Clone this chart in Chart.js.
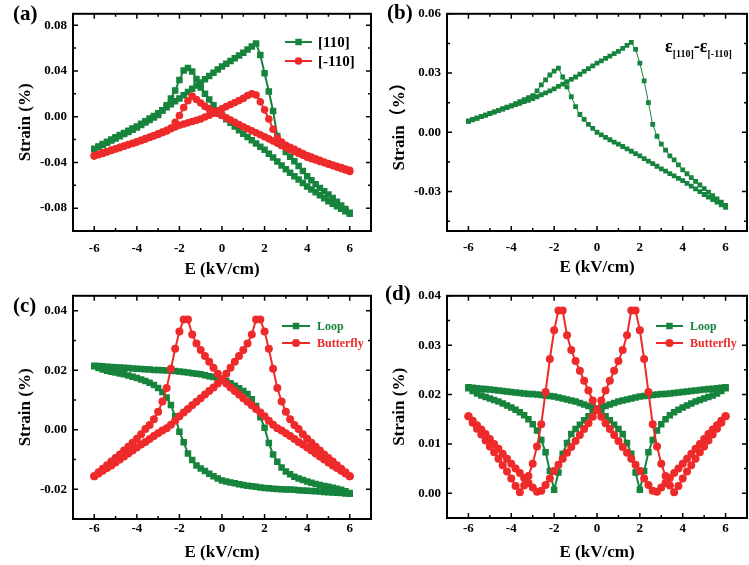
<!DOCTYPE html>
<html>
<head>
<meta charset="utf-8">
<style>
* { margin: 0; padding: 0; }
body { width: 749px; height: 565px; background: #fff; position: relative; overflow: hidden; }
canvas { position: absolute; }
#chartA { left: 0; top: 0; }
#chartB { left: 374px; top: 0; }
#chartC { left: 0; top: 282px; }
#chartD { left: 374px; top: 282px; }
</style>
</head>
<body>
<canvas id="chartA" width="374" height="282"></canvas>
<canvas id="chartB" width="375" height="282"></canvas>
<canvas id="chartC" width="374" height="283"></canvas>
<canvas id="chartD" width="375" height="283"></canvas>
<script src="https://cdn.jsdelivr.net/npm/chart.js"></script>
<script>
// field sweep, kV/cm (both branches use the same grid, stored in ascending order)
const eField = [-6.0,-5.8,-5.6,-5.4,-5.2,-5.0,-4.8,-4.6,-4.4,-4.2,-4.0,-3.8,-3.6,-3.4,-3.2,-3.0,-2.8,-2.6,-2.4,-2.2,
  -2.0,-1.8,-1.6,-1.4,-1.2,-1.0,-0.8,-0.6,-0.4,-0.2,0,0.2,0.4,0.6,0.8,1.0,1.2,1.4,1.6,1.8,
  2.0,2.2,2.4,2.6,2.8,3.0,3.2,3.4,3.6,3.8,4.0,4.2,4.4,4.6,4.8,5.0,5.2,5.4,5.6,5.8,6.0];

// tick values
const eTicks = [-6, -4, -2, 0, 2, 4, 6];
const eMinor = [-5, -3, -1, 1, 3, 5];
const aTicks = [-0.08, -0.04, 0, 0.04, 0.08];
const aMinor = [-0.06, -0.02, 0.02, 0.06];
const bTicks = [-0.03, 0, 0.03, 0.06];
const bMinor = [-0.045, -0.015, 0.015, 0.045];
const cTicks = [-0.02, 0, 0.02, 0.04];
const cMinor = [-0.01, 0.01, 0.03];
const dTicks = [0, 0.01, 0.02, 0.03, 0.04];
const dMinor = [0.005, 0.015, 0.025, 0.035];

// (a) strain along [110] and [-110]; "up" = field rising, "down" = field falling
const s110Up = [-0.0280,-0.0260,-0.0240,-0.0220,-0.0200,-0.0180,-0.0161,-0.0142,-0.0123,-0.0104,
  -0.0085,-0.0062,-0.0039,-0.0016,0.0007,0.0030,0.0056,0.0082,0.0108,0.0134,
  0.0160,0.0188,0.0216,0.0244,0.0272,0.0300,0.0328,0.0356,0.0384,0.0412,
  0.0440,0.0464,0.0488,0.0512,0.0536,0.0560,0.0587,0.0613,0.0640,0.0540,
  0.0380,0.0220,0.0050,-0.0170,-0.0250,-0.0310,-0.0350,-0.0390,-0.0432,-0.0476,
  -0.0520,-0.0556,-0.0592,-0.0624,-0.0652,-0.0680,-0.0712,-0.0744,-0.0776,-0.0808,
  -0.0840];
const s110Down = [-0.0285,-0.0266,-0.0247,-0.0228,-0.0209,-0.0190,-0.0171,-0.0152,-0.0133,-0.0114,
  -0.0095,-0.0073,-0.0051,-0.0029,-0.0007,0.0015,0.0055,0.0100,0.0160,0.0230,
  0.0320,0.0405,0.0425,0.0395,0.0330,0.0255,0.0200,0.0150,0.0100,0.0055,
  0.0010,-0.0022,-0.0054,-0.0086,-0.0118,-0.0150,-0.0178,-0.0206,-0.0234,-0.0262,
  -0.0290,-0.0324,-0.0358,-0.0392,-0.0426,-0.0460,-0.0490,-0.0520,-0.0550,-0.0580,
  -0.0610,-0.0636,-0.0662,-0.0688,-0.0714,-0.0740,-0.0762,-0.0784,-0.0806,-0.0828,
  -0.0850];
const sm110Up = [-0.0340,-0.0328,-0.0316,-0.0304,-0.0292,-0.0280,-0.0268,-0.0256,-0.0244,-0.0232,
  -0.0220,-0.0206,-0.0192,-0.0178,-0.0164,-0.0150,-0.0135,-0.0120,-0.0105,-0.0090,
  -0.0075,-0.0064,-0.0053,-0.0042,-0.0031,-0.0020,-0.0003,0.0013,0.0030,0.0050,
  0.0070,0.0088,0.0106,0.0124,0.0142,0.0160,0.0185,0.0200,0.0190,0.0130,
  0.0060,-0.0020,-0.0110,-0.0190,-0.0222,-0.0250,-0.0268,-0.0286,-0.0304,-0.0322,
  -0.0340,-0.0354,-0.0368,-0.0382,-0.0396,-0.0410,-0.0422,-0.0434,-0.0446,-0.0458,
  -0.0470];
const sm110Down = [-0.0345,-0.0333,-0.0321,-0.0309,-0.0296,-0.0283,-0.0271,-0.0259,-0.0246,-0.0234,
  -0.0222,-0.0209,-0.0196,-0.0182,-0.0168,-0.0155,-0.0140,-0.0125,-0.0100,-0.0050,
  0.0010,0.0080,0.0140,0.0180,0.0150,0.0120,0.0090,0.0068,0.0045,0.0028,
  0.0010,-0.0010,-0.0029,-0.0049,-0.0068,-0.0088,-0.0105,-0.0123,-0.0140,-0.0158,
  -0.0175,-0.0194,-0.0213,-0.0232,-0.0251,-0.0270,-0.0287,-0.0304,-0.0321,-0.0338,
  -0.0355,-0.0367,-0.0379,-0.0391,-0.0403,-0.0415,-0.0428,-0.0441,-0.0454,-0.0467,
  -0.0480];

// (b) difference e[110]-e[-110]
const diffUp = [0.0057,0.0065,0.0072,0.0080,0.0087,0.0095,0.0102,0.0110,0.0117,0.0125,
  0.0132,0.0140,0.0147,0.0155,0.0162,0.0170,0.0180,0.0190,0.0200,0.0210,
  0.0220,0.0232,0.0244,0.0256,0.0268,0.0280,0.0294,0.0308,0.0322,0.0336,
  0.0350,0.0362,0.0374,0.0386,0.0398,0.0410,0.0425,0.0440,0.0455,0.0420,
  0.0350,0.0260,0.0150,0.0040,-0.0020,-0.0060,-0.0090,-0.0120,-0.0140,-0.0165,
  -0.0190,-0.0210,-0.0230,-0.0249,-0.0267,-0.0285,-0.0303,-0.0321,-0.0338,-0.0354,
  -0.0370];
const diffDown = [0.0055,0.0063,0.0071,0.0079,0.0087,0.0095,0.0103,0.0111,0.0119,0.0127,
  0.0135,0.0145,0.0155,0.0165,0.0175,0.0185,0.0210,0.0240,0.0265,0.0290,
  0.0310,0.0325,0.0280,0.0230,0.0180,0.0130,0.0090,0.0065,0.0040,0.0020,
  0.0000,-0.0013,-0.0026,-0.0038,-0.0050,-0.0060,-0.0072,-0.0084,-0.0096,-0.0108,
  -0.0120,-0.0133,-0.0146,-0.0159,-0.0172,-0.0185,-0.0197,-0.0209,-0.0221,-0.0233,
  -0.0245,-0.0259,-0.0273,-0.0287,-0.0301,-0.0315,-0.0328,-0.0341,-0.0354,-0.0367,
  -0.0380];

// (c) loop and butterfly parts
const loopUp = [0.0215,0.0214,0.0213,0.0212,0.0211,0.0210,0.0209,0.0208,0.0207,0.0206,
  0.0205,0.0204,0.0203,0.0202,0.0201,0.0201,0.0200,0.0199,0.0198,0.0197,
  0.0196,0.0194,0.0192,0.0190,0.0188,0.0186,0.0183,0.0180,0.0177,0.0174,
  0.0171,0.0164,0.0156,0.0148,0.0139,0.0130,0.0120,0.0102,0.0080,0.0042,
  0.0007,-0.0045,-0.0083,-0.0108,-0.0127,-0.0140,-0.0150,-0.0158,-0.0164,-0.0169,
  -0.0174,-0.0178,-0.0182,-0.0186,-0.0189,-0.0192,-0.0195,-0.0198,-0.0202,-0.0207,
  -0.0213];
const loopDown = [0.0213,0.0207,0.0202,0.0198,0.0195,0.0192,0.0189,0.0186,0.0182,0.0178,
  0.0174,0.0169,0.0164,0.0158,0.0150,0.0140,0.0127,0.0108,0.0083,0.0045,
  -0.0007,-0.0042,-0.0080,-0.0102,-0.0120,-0.0130,-0.0139,-0.0148,-0.0156,-0.0164,
  -0.0171,-0.0174,-0.0177,-0.0180,-0.0183,-0.0186,-0.0188,-0.0190,-0.0192,-0.0194,
  -0.0196,-0.0197,-0.0198,-0.0199,-0.0200,-0.0201,-0.0201,-0.0202,-0.0203,-0.0204,
  -0.0205,-0.0206,-0.0207,-0.0208,-0.0209,-0.0210,-0.0211,-0.0212,-0.0213,-0.0214,
  -0.0215];
const flyUp = [-0.0156,-0.0147,-0.0138,-0.0129,-0.0120,-0.0110,-0.0100,-0.0090,-0.0080,-0.0070,
  -0.0060,-0.0050,-0.0041,-0.0031,-0.0021,-0.0012,-0.0003,0.0005,0.0017,0.0030,
  0.0045,0.0058,0.0070,0.0082,0.0094,0.0106,0.0118,0.0130,0.0142,0.0155,
  0.0168,0.0188,0.0208,0.0228,0.0248,0.0268,0.0290,0.0320,0.0370,0.0370,
  0.0330,0.0272,0.0205,0.0140,0.0095,0.0060,0.0035,0.0016,0.0002,-0.0015,
  -0.0030,-0.0044,-0.0057,-0.0070,-0.0083,-0.0095,-0.0107,-0.0119,-0.0131,-0.0143,
  -0.0156];
const flyDown = [-0.0156,-0.0143,-0.0131,-0.0119,-0.0107,-0.0095,-0.0083,-0.0070,-0.0057,-0.0044,
  -0.0030,-0.0015,0.0002,0.0016,0.0035,0.0060,0.0095,0.0140,0.0205,0.0272,
  0.0330,0.0370,0.0370,0.0320,0.0290,0.0268,0.0248,0.0228,0.0208,0.0188,
  0.0168,0.0155,0.0142,0.0130,0.0118,0.0106,0.0094,0.0082,0.0070,0.0058,
  0.0045,0.0030,0.0017,0.0005,-0.0003,-0.0012,-0.0021,-0.0031,-0.0041,-0.0050,
  -0.0060,-0.0070,-0.0080,-0.0090,-0.0100,-0.0110,-0.0120,-0.0129,-0.0138,-0.0147,
  -0.0156];

// (d) magnitudes
const absLoopUp = [0.0215,0.0214,0.0213,0.0212,0.0211,0.0210,0.0209,0.0208,0.0207,0.0206,
  0.0205,0.0204,0.0203,0.0202,0.0201,0.0201,0.0200,0.0199,0.0198,0.0197,
  0.0196,0.0194,0.0192,0.0190,0.0188,0.0186,0.0183,0.0180,0.0177,0.0174,
  0.0171,0.0164,0.0156,0.0148,0.0139,0.0130,0.0120,0.0102,0.0080,0.0042,
  0.0007,0.0045,0.0083,0.0108,0.0127,0.0140,0.0150,0.0158,0.0164,0.0169,
  0.0174,0.0178,0.0182,0.0186,0.0189,0.0192,0.0195,0.0198,0.0202,0.0207,
  0.0213];
const absLoopDown = [0.0213,0.0207,0.0202,0.0198,0.0195,0.0192,0.0189,0.0186,0.0182,0.0178,
  0.0174,0.0169,0.0164,0.0158,0.0150,0.0140,0.0127,0.0108,0.0083,0.0045,
  0.0007,0.0042,0.0080,0.0102,0.0120,0.0130,0.0139,0.0148,0.0156,0.0164,
  0.0171,0.0174,0.0177,0.0180,0.0183,0.0186,0.0188,0.0190,0.0192,0.0194,
  0.0196,0.0197,0.0198,0.0199,0.0200,0.0201,0.0201,0.0202,0.0203,0.0204,
  0.0205,0.0206,0.0207,0.0208,0.0209,0.0210,0.0211,0.0212,0.0213,0.0214,
  0.0215];
const absFlyUp = [0.0156,0.0147,0.0138,0.0129,0.0120,0.0110,0.0100,0.0090,0.0080,0.0070,
  0.0060,0.0050,0.0041,0.0031,0.0021,0.0012,0.0003,0.0005,0.0017,0.0030,
  0.0045,0.0058,0.0070,0.0082,0.0094,0.0106,0.0118,0.0130,0.0142,0.0155,
  0.0168,0.0188,0.0208,0.0228,0.0248,0.0268,0.0290,0.0320,0.0370,0.0370,
  0.0330,0.0272,0.0205,0.0140,0.0095,0.0060,0.0035,0.0016,0.0002,0.0015,
  0.0030,0.0044,0.0057,0.0070,0.0083,0.0095,0.0107,0.0119,0.0131,0.0143,
  0.0156];
const absFlyDown = [0.0156,0.0143,0.0131,0.0119,0.0107,0.0095,0.0083,0.0070,0.0057,0.0044,
  0.0030,0.0015,0.0002,0.0016,0.0035,0.0060,0.0095,0.0140,0.0205,0.0272,
  0.0330,0.0370,0.0370,0.0320,0.0290,0.0268,0.0248,0.0228,0.0208,0.0188,
  0.0168,0.0155,0.0142,0.0130,0.0118,0.0106,0.0094,0.0082,0.0070,0.0058,
  0.0045,0.0030,0.0017,0.0005,0.0003,0.0012,0.0021,0.0031,0.0041,0.0050,
  0.0060,0.0070,0.0080,0.0090,0.0100,0.0110,0.0120,0.0129,0.0138,0.0147,
  0.0156];

const GREEN = '#16843c';
const RED = '#ee2a2a';
const serif = '"Liberation Serif", "Times New Roman", "Noto Sans CJK SC", serif';

// up branch -6 -> 6, then down branch 6 -> -6
function loopPoints(up, down) {
  const pts = eField.map((e, i) => ({x: e, y: up[i]}));
  for (let i = eField.length - 1; i >= 0; i--) pts.push({x: eField[i], y: down[i]});
  return pts;
}

function series(label, up, down, color, style, r, lw, order) {
  return {
    label: label,
    data: loopPoints(up, down),
    showLine: true,
    borderColor: color,
    backgroundColor: color,
    borderWidth: lw,
    pointStyle: style,
    pointRadius: r,
    pointBorderWidth: 0,
    pointBackgroundColor: color,
    order: order
  };
}

// per panel extras: frame ticks, panel tag, legend, note
const decor = {
  chartA: { tag: '(a)', tagX: 13, tagY: 15, yMajor: aTicks, yMinor: aMinor,
    legend: { x1: 285, x2: 312, textX: 318, rows: [42, 61], size: 15, colored: false } },
  chartB: { tag: '(b)', tagX: 13, tagY: 14, yMajor: bTicks, yMinor: bMinor,
    note: { x: 291, y: 52, parts: [
      {text: 'ε', size: 18, dy: 0}, {text: '[110]', size: 10, dy: 5},
      {text: '-ε', size: 18, dy: 0}, {text: '[-110]', size: 10, dy: 5}] } },
  chartC: { tag: '(c)', tagX: 13, tagY: 25, yMajor: cTicks, yMinor: cMinor,
    legend: { x1: 282, x2: 310, textX: 317, rows: [44, 61], size: 12, colored: true } },
  chartD: { tag: '(d)', tagX: 11, tagY: 13, yMajor: dTicks, yMinor: dMinor,
    legend: { x1: 282, x2: 309, textX: 316, rows: [44, 61], size: 12, colored: true } }
};

function marker(ctx, style, x, y, r) {
  ctx.beginPath();
  if (style === 'rect') {
    const h = r * Math.SQRT1_2;
    ctx.rect(x - h, y - h, 2 * h, 2 * h);
  } else {
    ctx.arc(x, y, r, 0, Math.PI * 2);
  }
  ctx.fill();
}

const panelDecor = {
  id: 'panelDecor',
  afterDatasetsDraw(chart) {
    const d = decor[chart.canvas.id];
    const ctx = chart.ctx;
    const ca = chart.chartArea;
    const xs = chart.scales.x, ys = chart.scales.y;
    ctx.save();
    // inward ticks on all four sides
    ctx.strokeStyle = '#000';
    ctx.lineWidth = 1.5;
    ctx.beginPath();
    const tickX = (v, len) => {
      const px = xs.getPixelForValue(v);
      ctx.moveTo(px, ca.top); ctx.lineTo(px, ca.top + len);
      ctx.moveTo(px, ca.bottom); ctx.lineTo(px, ca.bottom - len);
    };
    const tickY = (v, len) => {
      const py = ys.getPixelForValue(v);
      ctx.moveTo(ca.left, py); ctx.lineTo(ca.left + len, py);
      ctx.moveTo(ca.right, py); ctx.lineTo(ca.right - len, py);
    };
    eTicks.forEach(v => tickX(v, 5));
    eMinor.forEach(v => tickX(v, 3));
    d.yMajor.forEach(v => tickY(v, 5));
    d.yMinor.forEach(v => tickY(v, 3));
    ctx.stroke();
    ctx.lineWidth = 2;
    ctx.strokeRect(ca.left, ca.top, ca.right - ca.left, ca.bottom - ca.top);

    // panel tag
    ctx.fillStyle = '#000';
    ctx.textBaseline = 'middle';
    ctx.textAlign = 'left';
    ctx.font = 'bold 21px ' + serif;
    ctx.fillText(d.tag, d.tagX, d.tagY);

    // legend
    if (d.legend) {
      const L = d.legend;
      chart.data.datasets.forEach((ds, i) => {
        const y = L.rows[i];
        ctx.strokeStyle = ds.borderColor;
        ctx.lineWidth = 2;
        ctx.beginPath();
        ctx.moveTo(L.x1, y); ctx.lineTo(L.x2, y);
        ctx.stroke();
        ctx.fillStyle = ds.borderColor;
        marker(ctx, ds.pointStyle, (L.x1 + L.x2) / 2, y, ds.pointRadius);
        ctx.fillStyle = L.colored ? ds.borderColor : '#000';
        ctx.font = 'bold ' + L.size + 'px ' + serif;
        ctx.fillText(ds.label, L.textX, y + 1);
      });
    }

    // note with subscripts
    if (d.note) {
      let x = d.note.x;
      ctx.fillStyle = '#000';
      ctx.textBaseline = 'alphabetic';
      d.note.parts.forEach(p => {
        ctx.font = 'bold ' + p.size + 'px ' + serif;
        ctx.fillText(p.text, x, d.note.y + p.dy);
        x += ctx.measureText(p.text).width;
      });
    }
    ctx.restore();
  }
};

const tickFont = { family: serif, size: 13, weight: 'bold' };
const titleFont = { family: serif, size: 17, weight: 'bold' };

function makePanel(id, p) {
  return new Chart(document.getElementById(id), {
    type: 'scatter',
    data: { datasets: p.datasets },
    options: {
      responsive: false,
      animation: false,
      events: [],
      layout: { autoPadding: false, padding: p.padding },
      plugins: { legend: { display: false }, tooltip: { enabled: false } },
      scales: {
        x: {
          type: 'linear', min: -7, max: 7,
          afterBuildTicks: s => { s.ticks = eTicks.map(v => ({ value: v })); },
          afterFit: s => { s.height = p.xHeight; },
          grid: { display: false, drawTicks: false },
          border: { display: false },
          ticks: { padding: p.xTickPad, color: '#000', font: tickFont, autoSkip: false, maxRotation: 0,
            callback: v => String(v) },
          title: { display: true, text: 'E (kV/cm)', color: '#000', font: titleFont,
            padding: { top: 0, bottom: p.xTitlePad } }
        },
        y: {
          type: 'linear', min: p.yMin, max: p.yMax,
          afterBuildTicks: s => { s.ticks = p.yTicks.map(v => ({ value: v })); },
          afterFit: s => { s.width = 73; },
          grid: { display: false, drawTicks: false },
          border: { display: false },
          ticks: { padding: 6, color: '#000', font: tickFont, autoSkip: false,
            callback: v => v.toFixed(2) },
          title: { display: true, text: p.yTitle, color: '#000', font: titleFont,
            padding: { top: 15, bottom: 0 } }
        }
      }
    },
    plugins: [panelDecor]
  });
}

makePanel('chartA', {
  datasets: [
    series('[110]', s110Up, s110Down, GREEN, 'rect', 4.6, 2, 1),
    series('[-110]', sm110Up, sm110Down, RED, 'circle', 3.8, 2, 0)
  ],
  padding: { left: 0, right: 3, top: 7, bottom: 0 },
  xHeight: 51, xTickPad: 10, xTitlePad: 2,
  yMin: -0.1, yMax: 0.09, yTicks: aTicks, yTitle: 'Strain (%)'
});

makePanel('chartB', {
  datasets: [
    series('diff', diffUp, diffDown, GREEN, 'rect', 3.4, 1, 0)
  ],
  padding: { left: 0, right: 2, top: 7, bottom: 0 },
  xHeight: 51, xTickPad: 9, xTitlePad: 4,
  yMin: -0.05, yMax: 0.06, yTicks: bTicks, yTitle: 'Strain（%）'
});

makePanel('chartC', {
  datasets: [
    series('Loop', loopUp, loopDown, GREEN, 'rect', 4.6, 2, 1),
    series('Butterfly', flyUp, flyDown, RED, 'circle', 4, 2, 0)
  ],
  padding: { left: 0, right: 3, top: 12, bottom: 0 },
  xHeight: 46, xTickPad: 2, xTitlePad: 2,
  yMin: -0.03, yMax: 0.045, yTicks: cTicks, yTitle: 'Strain (%)'
});

makePanel('chartD', {
  datasets: [
    series('Loop', absLoopUp, absLoopDown, GREEN, 'rect', 4.6, 2, 1),
    series('Butterfly', absFlyUp, absFlyDown, RED, 'circle', 4, 2, 0)
  ],
  padding: { left: 0, right: 2, top: 13, bottom: 0 },
  xHeight: 47, xTickPad: 3, xTitlePad: 2,
  yMin: -0.005, yMax: 0.04, yTicks: dTicks, yTitle: 'Strain (%)'
});
</script>
</body>
</html>
